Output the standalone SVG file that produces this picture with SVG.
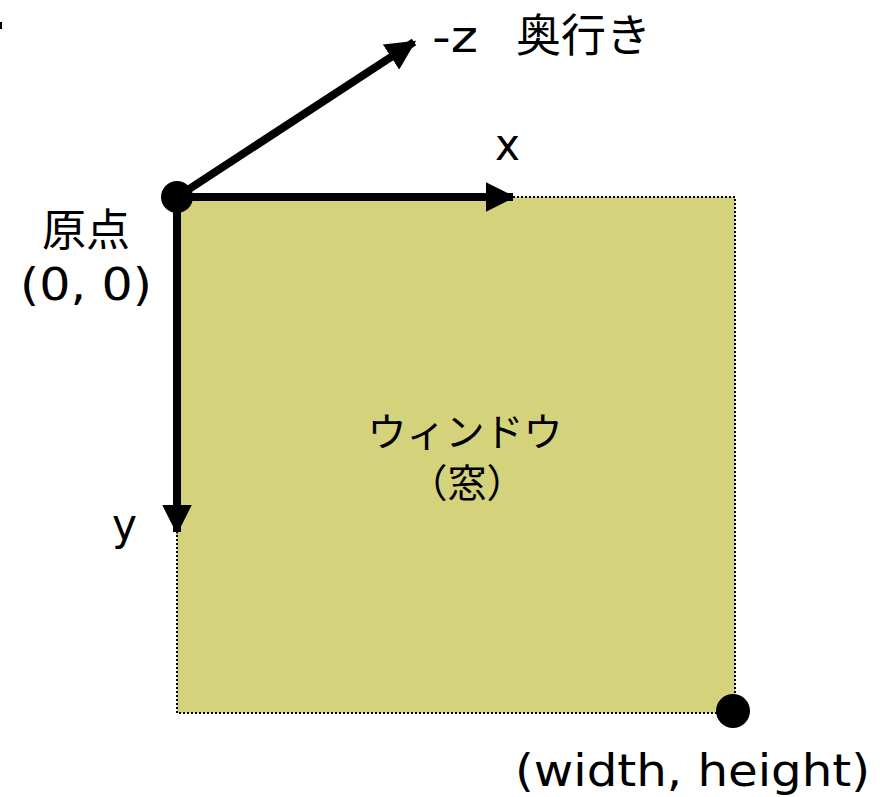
<svg xmlns="http://www.w3.org/2000/svg" width="887" height="797" viewBox="0 0 887 797">
<style>
.t{font-family:"DejaVu Sans","Noto Sans CJK JP",sans-serif;fill:#000}
.ax{stroke:#000;stroke-width:8;fill:none}
</style>
<defs>
<marker id="ah" markerUnits="userSpaceOnUse" markerWidth="30" markerHeight="30" refX="22" refY="12" orient="auto" viewBox="0 0 24 24">
<path d="M0,0 L24,12 L0,24 Z" fill="#000"/>
</marker>
</defs>
<rect width="887" height="797" fill="#fff"/>
<rect x="0" y="22" width="2" height="7" fill="#000"/>
<g id="window">
<rect x="177" y="197" width="558" height="516" fill="#d4d27a" stroke="#000" stroke-width="2" stroke-dasharray="2,2"/>
<text class="t" x="465" y="446" font-size="39" text-anchor="middle">ウィンドウ</text>
<text class="t" x="467" y="497" font-size="39" text-anchor="middle">（窓）</text>
</g>
<g id="connectors">
<line class="ax" x1="177" y1="197" x2="513" y2="197" marker-end="url(#ah)"/>
<line class="ax" x1="177" y1="197" x2="177" y2="532" marker-end="url(#ah)"/>
<line class="ax" x1="177" y1="197" x2="414" y2="42" marker-end="url(#ah)"/>
</g>
<g id="origin">
<circle cx="177" cy="197" r="16" fill="#000"/>
<text class="t" x="86" y="246" font-size="44" text-anchor="middle">原点</text>
<text class="t" x="20" y="300" font-size="44" textLength="132" lengthAdjust="spacingAndGlyphs">(0, 0)</text>
</g>
<g id="corner">
<circle cx="733" cy="711" r="17" fill="#000"/>
<text class="t" x="515" y="786" font-size="44" textLength="355" lengthAdjust="spacingAndGlyphs">(width, height)</text>
</g>
<g id="labels">
<text class="t" x="495" y="160" font-size="44" textLength="25" lengthAdjust="spacingAndGlyphs">x</text>
<text class="t" x="112" y="540" font-size="44" textLength="25" lengthAdjust="spacingAndGlyphs">y</text>
<text class="t" x="432" y="52" font-size="44" textLength="46" lengthAdjust="spacingAndGlyphs">-z</text>
<text class="t" x="516" y="52" font-size="45">奥行き</text>
</g>
</svg>
